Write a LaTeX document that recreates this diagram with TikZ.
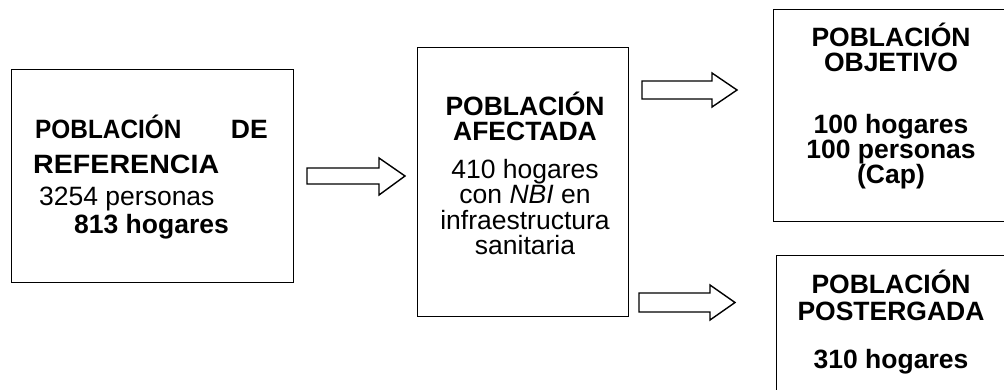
\documentclass[tikz,border=0pt]{standalone}
\usepackage{fontspec}
\usepackage{graphicx}
\setmainfont{Liberation Sans}
\begin{document}
\begin{tikzpicture}[x=1pt,y=-1pt,
  box/.style={draw=black,line width=0.9pt,fill=white,inner sep=0pt},
  blockarrow/.style={draw=black,line width=1.4pt,fill=white,line join=miter},
  txt/.style={inner sep=0pt,font=\fontsize{26.5}{26.5}\selectfont},
  btxt/.style={txt,font=\fontsize{26.5}{26.5}\selectfont\bfseries}]
\useasboundingbox (0,0) rectangle (1004,389);
\clip (0,0) rectangle (1004,389);
% boxes
\node[box,minimum width=282pt,minimum height=213pt] (ref) at (152,175.5) {};
\node[box,minimum width=211pt,minimum height=269pt] (afe) at (522.5,181.5) {};
\node[box,minimum width=239pt,minimum height=212pt] (obj) at (892.5,115) {};
\node[box,minimum width=238pt,minimum height=150pt] (pos) at (895,330) {};
% box 1 text
\node[btxt,anchor=base west] (r1a) at (35,138) {\scalebox{0.92}[1]{\bfseries POBLACIÓN}};
\node[btxt,anchor=base east] (r1b) at (268,138) {DE};
\node[btxt,anchor=base west] (r2) at (33,173) {\scalebox{1.08}[1]{\bfseries REFERENCIA}};
\node[txt,anchor=base west] (r3) at (39,205) {3254 personas};
\node[btxt,anchor=base west] (r4) at (74,233) {813 hogares};
% box 2 text
\node[btxt,anchor=base] (a1) at (525,115) {POBLACIÓN};
\node[btxt,anchor=base] (a2) at (525,140) {AFECTADA};
\node[txt,anchor=base] (a3) at (525,178) {410 hogares};
\node[txt,anchor=base] (a4) at (525,203) {con \textit{NBI} en};
\node[txt,anchor=base] (a5) at (525,229) {infraestructura};
\node[txt,anchor=base] (a6) at (525,254) {sanitaria};
% box 3 text
\node[btxt,anchor=base] (o1) at (891,46) {POBLACIÓN};
\node[btxt,anchor=base] (o2) at (891,71) {OBJETIVO};
\node[btxt,anchor=base] (o3) at (891,133) {100 hogares};
\node[btxt,anchor=base] (o4) at (891,158) {100 personas};
\node[btxt,anchor=base] (o5) at (891,183) {(Cap)};
% box 4 text
\node[btxt,anchor=base] (p1) at (891,293) {POBLACIÓN};
\node[btxt,anchor=base] (p2) at (891,320) {POSTERGADA};
\node[btxt,anchor=base] (p3) at (891,368) {310 hogares};
% block arrows
\draw[blockarrow] (307,168) -- (379,168) -- (379,158) -- (405,176) -- (379,195) -- (379,184) -- (307,184) -- cycle;
\draw[blockarrow] (642,81) -- (712,81) -- (712,73) -- (737,90) -- (712,107) -- (712,99) -- (642,99) -- cycle;
\draw[blockarrow] (639,293) -- (710,293) -- (710,285) -- (735,302.5) -- (710,320) -- (710,312) -- (639,312) -- cycle;
\end{tikzpicture}
\end{document}
